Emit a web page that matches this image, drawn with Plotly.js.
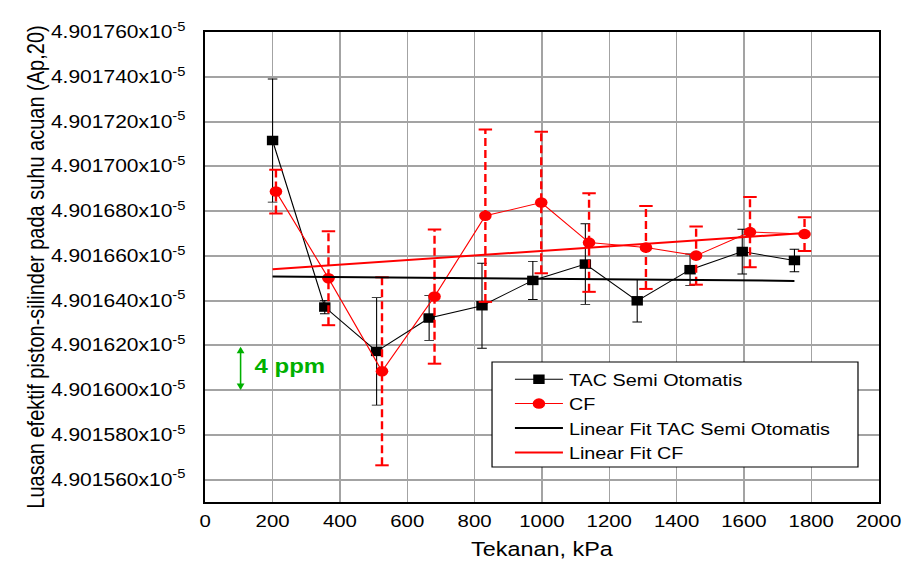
<!DOCTYPE html>
<html>
<head>
<meta charset="utf-8">
<script src="https://cdn.plot.ly/plotly-3.0.1.min.js"></script>
<style>
html,body{margin:0;padding:0;background:#fff;overflow:hidden}
#wrap{width:905px;height:563px;overflow:hidden;position:relative}
#chart{width:754px;height:563px;transform:scaleX(1.20027);transform-origin:0 0}
</style>
</head>
<body>
<div id="wrap"><div id="chart"></div></div>
<script>
// values in units of 1e-5
const tacX   = [200, 355, 509, 665, 822, 973, 1129, 1283, 1440, 1595, 1750];
const tacY   = [4.9017115, 4.9016371, 4.9016173, 4.9016322, 4.9016377, 4.9016490, 4.9016563, 4.9016399, 4.9016538, 4.9016619, 4.9016579];
const tacErr = [0.0000275, 0.0000030, 0.0000240, 0.0000100, 0.0000190, 0.0000085, 0.0000180, 0.0000095, 0.0000070, 0.0000100, 0.0000050];

const cfX   = [210, 366, 525, 681, 832, 998, 1140, 1309, 1458, 1618, 1780];
const cfY   = [4.9016887, 4.9016500, 4.9016084, 4.9016418, 4.9016779, 4.9016838, 4.9016659, 4.9016637, 4.9016601, 4.9016706, 4.9016697];
const cfErr = [0.0000098, 0.0000210, 0.0000420, 0.0000300, 0.0000385, 0.0000316, 0.0000220, 0.0000185, 0.0000130, 0.0000157, 0.0000075];

const fitTacX = [200, 1750];
const fitTacY = [4.9016508, 4.9016488];
const fitCfX  = [200, 1780];
const fitCfY  = [4.9016540, 4.9016702];

const yTickVals = [4.901560, 4.901580, 4.901600, 4.901620, 4.901640, 4.901660, 4.901680, 4.901700, 4.901720, 4.901740, 4.901760];
const yTickText = yTickVals.map(v => v.toFixed(6) + 'x10<sup>-5</sup>');

// dashed error bar segments and caps for CF, built from the data arrays
const cfErrX = [], cfErrY = [], cfCapX = [], cfCapY = [];
cfX.forEach((x, i) => {
  cfErrX.push(x, x, null);
  cfErrY.push(cfY[i] - cfErr[i], cfY[i] + cfErr[i], null);
  cfCapX.push(x, x);
  cfCapY.push(cfY[i] - cfErr[i], cfY[i] + cfErr[i]);
});

const FONT = 'Liberation Sans, Arial, sans-serif';

const traces = [
  {
    x: tacX, y: tacY, name: 'TAC Semi Otomatis', mode: 'lines+markers', type: 'scatter',
    line: {color: '#000', width: 1},
    marker: {symbol: 'square', size: 9.5, color: '#000'},
    error_y: {type: 'data', array: tacErr, visible: true, color: '#000', thickness: 0.9, width: 4}
  },
  {
    x: cfErrX, y: cfErrY, mode: 'lines', type: 'scatter', showlegend: false, hoverinfo: 'skip',
    line: {color: '#ff0000', width: 2, dash: '8px,4px'}
  },
  {
    x: cfCapX, y: cfCapY, mode: 'markers', type: 'scatter', showlegend: false, hoverinfo: 'skip',
    marker: {symbol: 'line-ew', size: 8, line: {color: '#ff0000', width: 2}}
  },
  {
    x: cfX, y: cfY, name: 'CF', mode: 'lines+markers', type: 'scatter',
    line: {color: '#ff0000', width: 1},
    marker: {symbol: 'circle', size: 10.5, color: '#ff0000'}
  },
  {
    x: fitTacX, y: fitTacY, name: 'Linear Fit TAC Semi Otomatis', mode: 'lines', type: 'scatter',
    line: {color: '#000', width: 2}
  },
  {
    x: fitCfX, y: fitCfY, name: 'Linear Fit CF', mode: 'lines', type: 'scatter',
    line: {color: '#ff0000', width: 2}
  }
];

const layout = {
  width: 754, height: 563,
  margin: {l: 171, r: 22, t: 32, b: 61},
  paper_bgcolor: '#fff', plot_bgcolor: '#fff',
  font: {family: FONT, size: 17, color: '#000'},
  showlegend: true,
  xaxis: {
    range: [0, 2000], dtick: 200, tick0: 0,
    showgrid: true, gridcolor: '#a3a3a3', gridwidth: 1.25,
    zeroline: false, showline: true, mirror: true, linecolor: '#000', linewidth: 2,
    ticks: '', ticklabelstandoff: 3,
    title: {text: 'Tekanan, kPa', font: {size: 19.5}, standoff: 12}
  },
  yaxis: {
    range: [4.901550, 4.901760],
    tickvals: yTickVals, ticktext: yTickText,
    showgrid: true, gridcolor: '#a3a3a3', gridwidth: 1.5,
    zeroline: false, showline: true, mirror: true, linecolor: '#000', linewidth: 2,
    ticks: '', ticklabelstandoff: 11, tickfont: {size: 17.5},
    title: {text: 'Luasan efektif piston-silinder pada suhu acuan (Ap,20)', font: {size: 20}, standoff: 0}
  },
  legend: {
    x: 0.451, y: 0.298, xanchor: 'left', yanchor: 'top',
    bgcolor: 'rgba(0,0,0,0)', borderwidth: 0,
    font: {size: 16.5}, itemwidth: 40, tracegroupgap: 0
  },
  shapes: [
    {
      type: 'rect', xref: 'paper', yref: 'paper', x0: 0.4259, x1: 0.9694, y0: 0.0745, y1: 0.298,
      layer: 'above', fillcolor: '#fff', line: {color: '#000', width: 1}
    }
  ],
  annotations: [
    {
      x: 105, y: 4.901600, ax: 105, ay: 4.901620, xref: 'x', yref: 'y', axref: 'x', ayref: 'y',
      text: '', showarrow: true, arrowhead: 2, arrowside: 'end+start', arrowsize: 1, arrowwidth: 1.3,
      arrowcolor: '#00b000'
    },
    {
      x: 140, y: 4.9016106, xref: 'x', yref: 'y', xanchor: 'left', yanchor: 'middle',
      text: '<b>4 ppm</b>', showarrow: false,
      font: {size: 20, color: '#00b000'}
    }
  ]
};

Plotly.newPlot('chart', traces, layout, {displayModeBar: false});
</script>
</body>
</html>
